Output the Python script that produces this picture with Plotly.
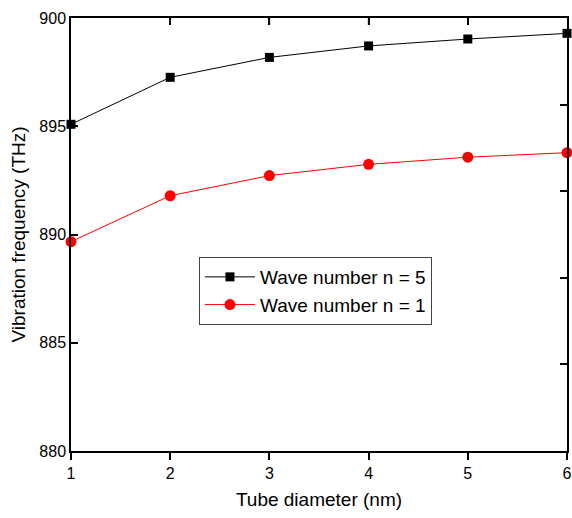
import plotly.graph_objects as go

diameter = [1, 2, 3, 4, 5, 6]
freq_n5 = [895.09, 897.26, 898.18, 898.71, 899.03, 899.29]
freq_n1 = [889.67, 891.79, 892.72, 893.24, 893.57, 893.78]
x_ticks = [1, 2, 3, 4, 5, 6]
y_ticks = [880, 885, 890, 895, 900]
y_right_ticks = [884, 888, 892, 896]

FONT = "Arial, Liberation Sans, sans-serif"

fig = go.Figure()
fig.add_trace(go.Scatter(
    x=diameter, y=freq_n5, mode="lines+markers", name="Wave number n = 5",
    line=dict(color="black", width=1),
    marker=dict(symbol="square", size=9, color="black"),
    cliponaxis=False,
))
fig.add_trace(go.Scatter(
    x=diameter, y=freq_n1, mode="lines+markers", name="Wave number n = 1",
    line=dict(color="red", width=1),
    marker=dict(symbol="circle", size=11, color="red"),
    cliponaxis=False,
))
# invisible trace to attach the mirror (top/right) axes
fig.add_trace(go.Scatter(x=[1, 6], y=[880, 900], xaxis="x2", yaxis="y2",
                         mode="markers", marker=dict(opacity=0),
                         showlegend=False, hoverinfo="skip"))

axis_common = dict(showgrid=False, zeroline=False, showline=True,
                   linecolor="black", linewidth=1.5, tickcolor="black",
                   tickwidth=1.5, ticklen=7, automargin=False)

fig.update_layout(
    width=572, height=518,
    margin=dict(l=71, r=5, t=18, b=67),
    paper_bgcolor="white", plot_bgcolor="white",
    font=dict(family=FONT, color="black"),
    xaxis=dict(range=[1, 6], tickvals=x_ticks, ticks="outside",
               tickfont=dict(size=16),
               title=dict(text="Tube diameter (nm)", font=dict(size=19), standoff=12),
               **axis_common),
    yaxis=dict(range=[880, 900], tickvals=y_ticks, ticks="inside",
               tickfont=dict(size=16),
               title=dict(text="Vibration frequency (THz)", font=dict(size=19), standoff=9),
               **axis_common),
    xaxis2=dict(range=[1, 6], overlaying="x", side="top", anchor="y2", tickvals=x_ticks,
                ticks="inside", showticklabels=False, **axis_common),
    yaxis2=dict(range=[880, 900], overlaying="y", side="right", anchor="x2",
                tickvals=y_right_ticks,
                ticks="inside", showticklabels=False, **axis_common),
    legend=dict(x=0.258, y=0.448, xanchor="left", yanchor="top",
                bgcolor="white", bordercolor="#444", borderwidth=1,
                itemwidth=50,
                font=dict(size=19, family=FONT, color="black"), tracegroupgap=0),
    showlegend=True,
)

# inward tick marks on the top frame edge, one per x tick value (7 px long)
for t in x_ticks[1:-1]:
    fig.add_shape(type="line", xref="x", yref="y domain",
                  ysizemode="pixel", yanchor=1, x0=t, x1=t, y0=0, y1=-7,
                  line=dict(color="black", width=1.5), layer="above")

fig.write_html("out.html", config={"displayModeBar": False},
               post_script="document.body.style.margin='0';document.body.style.padding='0';")
